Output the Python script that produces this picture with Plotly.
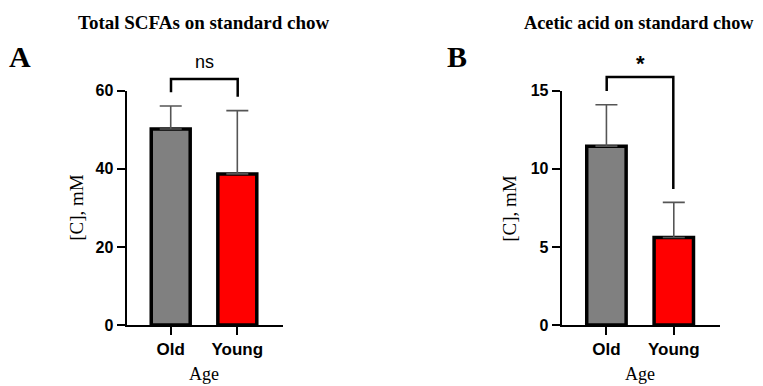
import plotly.graph_objects as go

W, H = 763, 386

categories = ["Old", "Young"]
scfa_mean = [50.2, 38.7]
scfa_err = [5.9, 16.2]
acetic_mean = [11.45, 5.6]
acetic_err = [2.65, 2.25]
bar_colors = ["#808080", "#ff0000"]

titles = ["Total SCFAs on standard chow", "Acetic acid on standard chow"]
panel_letters = ["A", "B"]
sig_labels = ["ns", "*"]
y_ticks_a = [0, 20, 40, 60]
y_ticks_b = [0, 5, 10, 15]

def px_x(p):
    return p / W

def px_y(p):
    return 1 - p / H

# layout geometry (pixels)
y_bot, y_top = 325, 90.7
dom_a = [px_x(126.5), px_x(283)]
dom_b = [px_x(561.7), px_x(720)]
dom_y = [px_y(y_bot), px_y(y_top)]
xrange_ = [-0.664, 1.686]

fig = go.Figure()

for i, (mean, err, xa, ya) in enumerate([
    (scfa_mean, scfa_err, "x", "y"),
    (acetic_mean, acetic_err, "x2", "y2"),
]):
    fig.add_trace(go.Bar(
        x=categories, y=mean, xaxis=xa, yaxis=ya,
        width=0.585,
        marker=dict(color=bar_colors, line=dict(color="black", width=3.5)),
        error_y=dict(type="data", array=err, arrayminus=[0, 0], symmetric=False,
                     color="#555555", thickness=1.6, width=11),
        showlegend=False, cliponaxis=False,
    ))

axis_common = dict(showline=True, linecolor="black", linewidth=2, ticks="outside",
                   ticklen=8, tickwidth=2, tickcolor="black", showgrid=False,
                   zeroline=False, fixedrange=True, automargin=False)

xfont = dict(family="Liberation Sans", size=17, color="black", weight="bold")
yfont = dict(family="Liberation Sans", size=16, color="black", weight="bold")

fig.update_layout(
    width=W, height=H, margin=dict(l=0, r=0, t=0, b=0, autoexpand=False),
    plot_bgcolor="white", paper_bgcolor="white",
    xaxis=dict(domain=dom_a, anchor="y", range=xrange_, type="category", tickfont=xfont, **axis_common),
    yaxis=dict(domain=dom_y, anchor="x", range=[0, 60], tickvals=y_ticks_a, tickfont=yfont, **axis_common),
    xaxis2=dict(domain=dom_b, anchor="y2", range=xrange_, type="category", tickfont=xfont, **axis_common),
    yaxis2=dict(domain=dom_y, anchor="x2", range=[0, 15], tickvals=y_ticks_b, tickfont=yfont, **axis_common),
)

serif = "Liberation Serif"
ann = []
# titles
for t, cx, sz in zip(titles, [204, 639], [19, 18.3]):
    ann.append(dict(text=f"<b>{t}</b>", x=px_x(cx), y=px_y(23), xref="paper", yref="paper",
                    showarrow=False, xanchor="center", yanchor="middle",
                    font=dict(family=serif, size=sz, color="black")))
# panel letters
for L, cx in zip(panel_letters, [20, 457]):
    ann.append(dict(text=f"<b>{L}</b>", x=px_x(cx), y=px_y(57), xref="paper", yref="paper",
                    showarrow=False, xanchor="center", yanchor="middle",
                    font=dict(family=serif, size=30, color="black")))
# y labels
for cx in [77, 510]:
    ann.append(dict(text="[C], mM", x=px_x(cx), y=(dom_y[0] + dom_y[1]) / 2, xref="paper", yref="paper",
                    showarrow=False, textangle=-90, xanchor="center", yanchor="middle",
                    font=dict(family=serif, size=19, color="black")))
# x labels
for cx in [204, 640]:
    ann.append(dict(text="Age", x=px_x(cx), y=px_y(386), xref="paper", yref="paper",
                    showarrow=False, xanchor="center", yanchor="bottom",
                    font=dict(family=serif, size=18, color="black")))

# significance brackets (pixel geometry)
shapes = []
brackets = [
    dict(xl=171, xr=237.7, top=79, ll=92.3, rl=96.7, cx=204, label_y=62, size=18, bold=False),
    dict(xl=606.7, xr=673.3, top=77, ll=91, rl=189, cx=640, label_y=63, size=22, bold=True),
]
for b, lab in zip(brackets, sig_labels):
    path = (f"M {px_x(b['xl'])},{px_y(b['ll'])} L {px_x(b['xl'])},{px_y(b['top'])} "
            f"L {px_x(b['xr'])},{px_y(b['top'])} L {px_x(b['xr'])},{px_y(b['rl'])}")
    shapes.append(dict(type="path", path=path, xref="paper", yref="paper",
                       line=dict(color="black", width=2.5)))
    txt = f"<b>{lab}</b>" if b["bold"] else lab
    ann.append(dict(text=txt, x=px_x(b["cx"]), y=px_y(b["label_y"]), xref="paper", yref="paper",
                    showarrow=False, xanchor="center", yanchor="middle",
                    font=dict(family="Liberation Sans", size=b["size"], color="black")))

fig.update_layout(annotations=ann, shapes=shapes)
fig.write_html("out.html", config={"displayModeBar": False},
               post_script="document.body.style.margin='0';document.body.style.overflow='hidden';")
